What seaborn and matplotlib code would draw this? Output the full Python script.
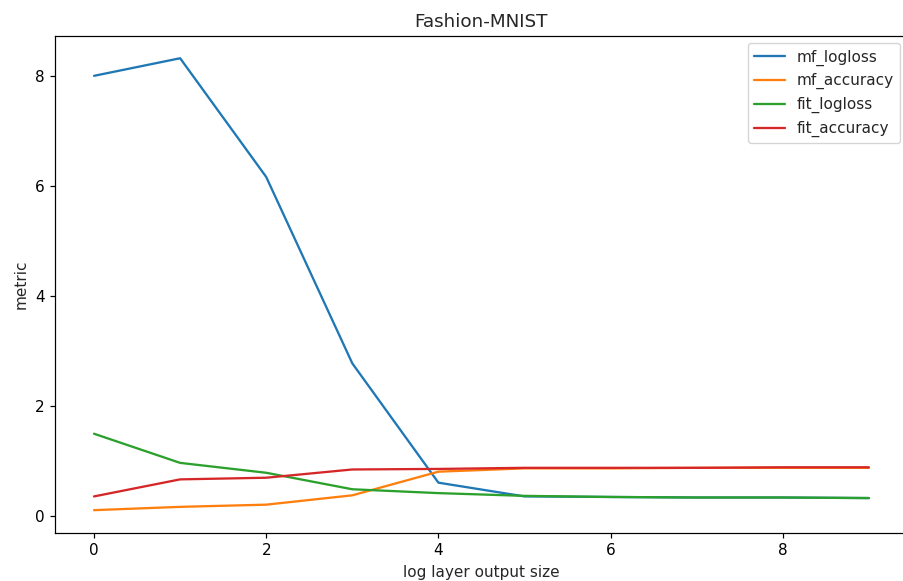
import matplotlib
matplotlib.use("Agg")
import matplotlib.pyplot as plt
import seaborn as sns
import pandas as pd

x = [0, 1, 2, 3, 4, 5, 6, 7, 8, 9]
mf_logloss = [8.01, 8.33, 6.17, 2.78, 0.61, 0.36, 0.35, 0.34, 0.34, 0.33]
mf_accuracy = [0.11, 0.17, 0.21, 0.38, 0.81, 0.87, 0.87, 0.88, 0.88, 0.88]
fit_logloss = [1.50, 0.97, 0.79, 0.49, 0.42, 0.37, 0.35, 0.34, 0.34, 0.33]
fit_accuracy = [0.36, 0.67, 0.70, 0.85, 0.86, 0.88, 0.88, 0.88, 0.89, 0.89]

series = {
    "mf_logloss": mf_logloss,
    "mf_accuracy": mf_accuracy,
    "fit_logloss": fit_logloss,
    "fit_accuracy": fit_accuracy,
}
rows = []
for name, vals in series.items():
    for xi, v in zip(x, vals):
        rows.append({"log layer output size": xi, "metric": v, "series": name})
df = pd.DataFrame(rows)

sns.set_style("white")
plt.rcParams["font.family"] = ["DejaVu Sans"]
fig = plt.figure(figsize=(9.04, 5.81), dpi=100)
W, H = 904, 581
left, right, top, bottom = 55.3, 907.6, 35.7, 532.7
ax = fig.add_axes([left / W, (H - bottom) / H, (right - left) / W, (bottom - top) / H])
sns.lineplot(data=df, x="log layer output size", y="metric", hue="series",
             palette=["#1f77b4", "#ff7f0e", "#2ca02c", "#d62728"], ax=ax, linewidth=1.65)
for s in ax.spines.values():
    s.set_color("black")
    s.set_linewidth(0.88)
ax.spines["right"].set_visible(False)
ax.tick_params(axis="both", which="both", length=3.85, width=0.88, colors="black", labelsize=11,
               left=True, bottom=True, pad=3.85)
ax.set_title("Fashion-MNIST", fontsize=13.2, pad=6.6)
ax.set_xlabel("log layer output size", fontsize=11, labelpad=4.4)
ax.set_ylabel("metric", fontsize=11, labelpad=4.4)
ax.set_xlim(-0.45, 9.45)
ax.set_ylim(-0.30, 8.74)
ax.set_xticks([0, 2, 4, 6, 8])
ax.set_yticks([0, 2, 4, 6, 8])
leg = ax.legend(loc="upper right", frameon=True, fontsize=11)
leg.set_title(None)
for line in leg.get_lines():
    line.set_linewidth(1.65)
fig.savefig("out.png", dpi=100)
